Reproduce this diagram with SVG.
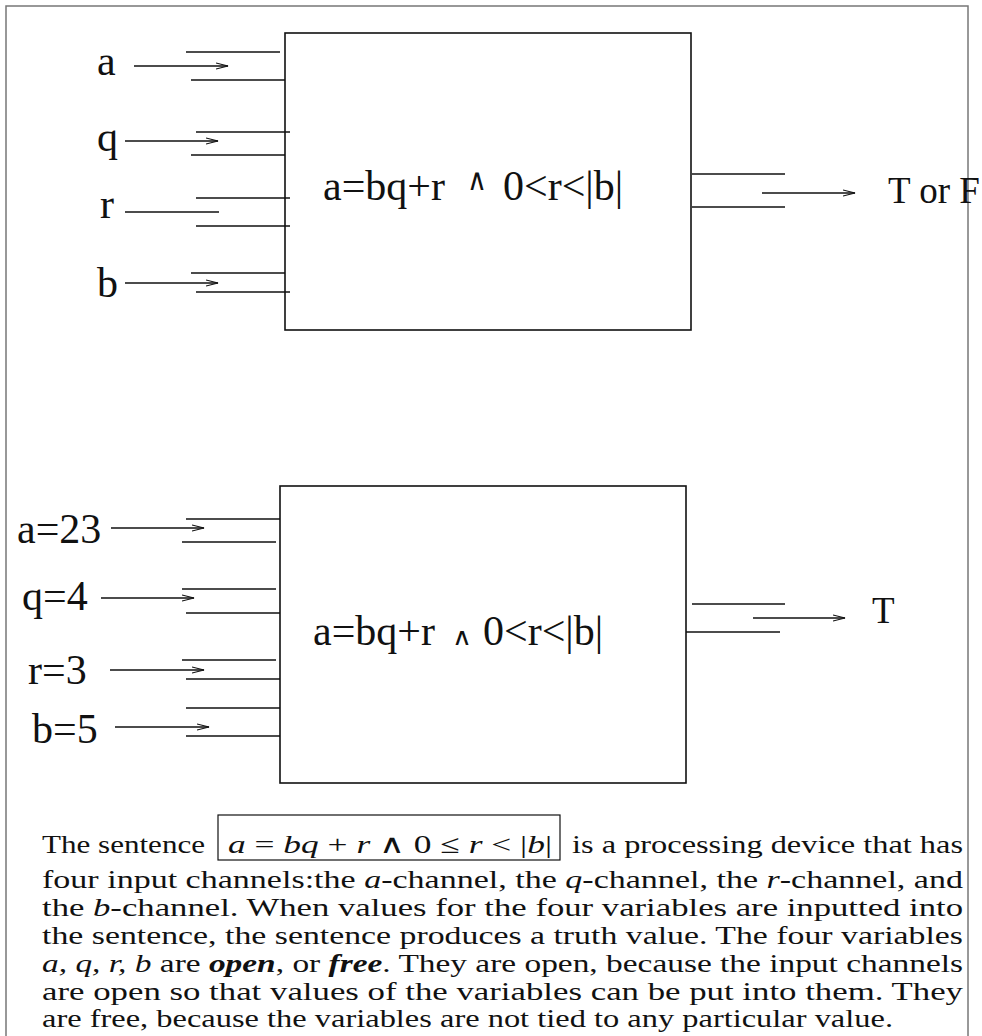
<svg xmlns="http://www.w3.org/2000/svg" width="982" height="1036" viewBox="0 0 982 1036">
<style>
.frame{fill:none;stroke:#777;stroke-width:1.5}
.box{fill:none;stroke:#111;stroke-width:1.6}
.ln{stroke:#111;stroke-width:1.4;fill:none}
.arr{stroke:#111;stroke-width:1.3;fill:none;marker-end:url(#ah)}
.lbl{font-family:"Liberation Serif","Times New Roman",serif;font-size:42px;fill:#111}
.out{font-family:"Liberation Serif","Times New Roman",serif;font-size:37px;fill:#111}
.wedge{font-family:"DejaVu Serif",serif;fill:#111}
.para{font-family:"Liberation Serif","Times New Roman",serif;font-size:26px;fill:#111}
.it{font-style:italic}
.bi{font-style:italic;font-weight:bold}
.sym{font-family:"DejaVu Serif",serif;font-weight:normal}
</style>
<defs>
<marker id="ah" markerUnits="userSpaceOnUse" markerWidth="14" markerHeight="10" refX="12" refY="4" orient="auto">
<path d="M0,1 L12,4 L0,7" fill="none" stroke="#111" stroke-width="1.2"/>
</marker>
</defs>
<rect class="frame" x="6" y="6" width="962" height="1040"/>

<g id="top-device">
<rect class="box" x="285" y="33" width="406" height="297"/>
<text class="lbl" x="323" y="200">a=bq+r</text>
<text class="wedge" x="467" y="190" font-size="30" textLength="20" lengthAdjust="spacingAndGlyphs">∧</text>
<text class="lbl" x="503" y="200">0&lt;r&lt;|b|</text>
</g>

<g id="top-inputs">
<text class="lbl" x="97" y="75">a</text>
<text class="lbl" x="97" y="151">q</text>
<text class="lbl" x="100" y="218">r</text>
<text class="lbl" x="97" y="297">b</text>
</g>

<g id="top-output">
<text class="out" x="888" y="203">T or F</text>
</g>

<g id="bottom-device">
<rect class="box" x="280" y="486" width="406" height="297"/>
<text class="lbl" x="313" y="645">a=bq+r</text>
<text class="wedge" x="452" y="645" font-size="24" textLength="20" lengthAdjust="spacingAndGlyphs">∧</text>
<text class="lbl" x="483" y="645">0&lt;r&lt;|b|</text>
</g>

<g id="bottom-inputs">
<text class="lbl" x="17" y="543">a=23</text>
<text class="lbl" x="22" y="610">q=4</text>
<text class="lbl" x="28" y="684">r=3</text>
<text class="lbl" x="32" y="743">b=5</text>
</g>

<g id="bottom-output">
<text class="out" x="872" y="623">T</text>
</g>

<g id="connectors">
<line class="ln" x1="186" y1="52" x2="280" y2="52"/>
<line class="ln" x1="191" y1="80" x2="285" y2="80"/>
<line class="arr" x1="134" y1="66" x2="228" y2="66"/>
<line class="ln" x1="196" y1="132" x2="290" y2="132"/>
<line class="ln" x1="191" y1="155" x2="285" y2="155"/>
<line class="arr" x1="125" y1="141" x2="218" y2="141"/>
<line class="ln" x1="196" y1="198" x2="290" y2="198"/>
<line class="ln" x1="196" y1="226" x2="290" y2="226"/>
<line class="ln" x1="125" y1="212" x2="219" y2="212"/>
<line class="ln" x1="191" y1="273" x2="285" y2="273"/>
<line class="ln" x1="196" y1="292" x2="290" y2="292"/>
<line class="arr" x1="125" y1="283" x2="218" y2="283"/>
<line class="ln" x1="692" y1="174" x2="785" y2="174"/>
<line class="ln" x1="692" y1="207" x2="785" y2="207"/>
<line class="arr" x1="762" y1="193" x2="855" y2="193"/>
<line class="ln" x1="186" y1="519" x2="280" y2="519"/>
<line class="ln" x1="182" y1="542" x2="276" y2="542"/>
<line class="arr" x1="111" y1="528" x2="204" y2="528"/>
<line class="ln" x1="182" y1="589" x2="276" y2="589"/>
<line class="ln" x1="186" y1="613" x2="280" y2="613"/>
<line class="arr" x1="101" y1="598" x2="194" y2="598"/>
<line class="ln" x1="182" y1="660" x2="276" y2="660"/>
<line class="ln" x1="186" y1="679" x2="280" y2="679"/>
<line class="arr" x1="110" y1="670" x2="204" y2="670"/>
<line class="ln" x1="186" y1="708" x2="280" y2="708"/>
<line class="ln" x1="186" y1="736" x2="280" y2="736"/>
<line class="arr" x1="115" y1="727" x2="209" y2="727"/>
<line class="ln" x1="692" y1="604" x2="785" y2="604"/>
<line class="ln" x1="686" y1="632" x2="780" y2="632"/>
<line class="arr" x1="753" y1="618" x2="845" y2="618"/>
</g>

<g id="caption">
<text class="para" x="42" y="853" textLength="163" lengthAdjust="spacingAndGlyphs">The sentence</text>
<rect x="218" y="815" width="342" height="45" fill="none" stroke="#111" stroke-width="1.2"/>
<text class="para" x="228" y="853" textLength="324" lengthAdjust="spacingAndGlyphs"><tspan class="it">a</tspan> = <tspan class="it">bq</tspan> + <tspan class="it">r</tspan> <tspan class="sym">∧</tspan> 0 ≤ <tspan class="it">r</tspan> &lt; |<tspan class="it">b</tspan>|</text>
<text class="para" x="572" y="853" textLength="391" lengthAdjust="spacingAndGlyphs">is a processing device that has</text>
<text class="para" x="42" y="888" textLength="921" lengthAdjust="spacingAndGlyphs">four input channels:the <tspan class="it">a</tspan>-channel, the <tspan class="it">q</tspan>-channel, the <tspan class="it">r</tspan>-channel, and</text>
<text class="para" x="42" y="916" textLength="921" lengthAdjust="spacingAndGlyphs">the <tspan class="it">b</tspan>-channel. When values for the four variables are inputted into</text>
<text class="para" x="42" y="944" textLength="921" lengthAdjust="spacingAndGlyphs">the sentence, the sentence produces a truth value. The four variables</text>
<text class="para" x="42" y="972" textLength="921" lengthAdjust="spacingAndGlyphs"><tspan class="it">a, q, r, b</tspan> are <tspan class="bi">open</tspan>, or <tspan class="bi">free</tspan>. They are open, because the input channels</text>
<text class="para" x="42" y="1000" textLength="921" lengthAdjust="spacingAndGlyphs">are open so that values of the variables can be put into them. They</text>
<text class="para" x="42" y="1027" textLength="851" lengthAdjust="spacingAndGlyphs">are free, because the variables are not tied to any particular value.</text>
</g>
</svg>
